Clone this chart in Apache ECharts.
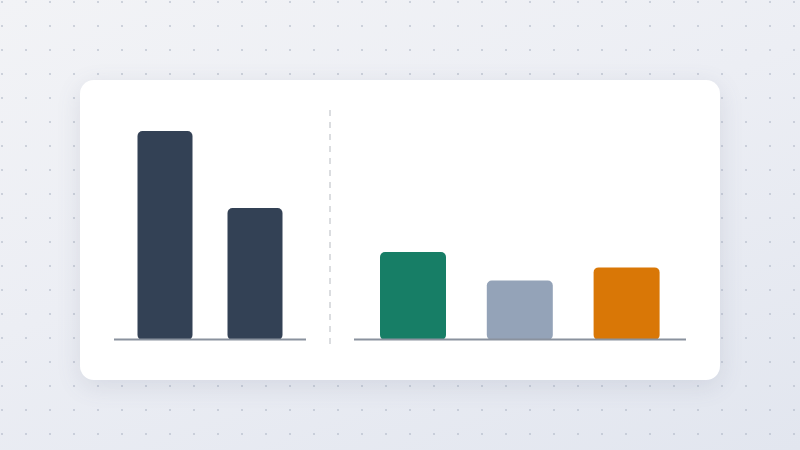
<!DOCTYPE html>
<html>
<head>
<meta charset="utf-8">
<script src="https://cdn.jsdelivr.net/npm/echarts@6/dist/echarts.min.js"></script>
<style>
  html, body { margin: 0; padding: 0; }
  body {
    width: 800px; height: 450px; overflow: hidden;
    background-color: #eaedf3;
    background-image:
      radial-gradient(circle, rgba(175,183,198,0.55) 0.9px, rgba(175,183,198,0) 1.4px),
      linear-gradient(160deg, #f2f3f6 0%, #eceef4 45%, #e2e6ef 100%);
    background-size: 24px 24px, 100% 100%;
    background-position: -10px -10px, 0 0;
  }
  #chart { width: 800px; height: 450px; }
</style>
</head>
<body>
<div id="chart"></div>
<script>
// Data
const leftCategories = ['A', 'B'];
const leftValues = [95, 60];
const leftColors = ['#334155', '#334155'];

const rightCategories = ['C', 'D', 'E'];
const rightValues = [40, 27, 33];
const rightColors = ['#177e66', '#94a3b8', '#d97706'];

const chart = echarts.init(document.getElementById('chart'), null, { renderer: 'canvas' });

const baseLineColor = '#8a929e';

const option = {
  backgroundColor: 'transparent',
  animation: false,
  graphic: [
    {
      type: 'rect', z: -10, zlevel: 0,
      shape: { x: 80, y: 80, width: 640, height: 300, r: 14 },
      style: { fill: '#ffffff', shadowBlur: 24, shadowColor: 'rgba(90,100,130,0.14)', shadowOffsetY: 6 }
    },
    {
      type: 'line', z: 5,
      shape: { x1: 114, y1: 339.5, x2: 306, y2: 339.5 },
      style: { stroke: baseLineColor, lineWidth: 2 }
    },
    {
      type: 'line', z: 5,
      shape: { x1: 354, y1: 339.5, x2: 686, y2: 339.5 },
      style: { stroke: baseLineColor, lineWidth: 2 }
    },
    {
      type: 'line', z: 5,
      shape: { x1: 330, y1: 110, x2: 330, y2: 344 },
      style: { stroke: '#cfd2d6', lineWidth: 1.5, lineDash: [6, 6] }
    }
  ],
  grid: [
    { left: 120, width: 180, top: 120, bottom: 110 },
    { left: 359.6, width: 320.4, top: 120, bottom: 110 }
  ],
  xAxis: [
    { type: 'category', gridIndex: 0, data: leftCategories,
      axisLine: { show: false }, axisTick: { show: false }, axisLabel: { show: false } },
    { type: 'category', gridIndex: 1, data: rightCategories,
      axisLine: { show: false }, axisTick: { show: false }, axisLabel: { show: false } }
  ],
  yAxis: [
    { type: 'value', gridIndex: 0, min: 0, max: 100,
      splitLine: { show: false }, axisLine: { show: false }, axisTick: { show: false }, axisLabel: { show: false } },
    { type: 'value', gridIndex: 1, min: 0, max: 100,
      splitLine: { show: false }, axisLine: { show: false }, axisTick: { show: false }, axisLabel: { show: false } }
  ],
  series: [
    {
      type: 'bar', xAxisIndex: 0, yAxisIndex: 0, barWidth: 55, z: 3,
      data: leftValues.map((v, i) => ({ value: v, itemStyle: { color: leftColors[i] } })),
      itemStyle: { borderRadius: 5 }
    },
    {
      type: 'bar', xAxisIndex: 1, yAxisIndex: 1, barWidth: 66, z: 3,
      data: rightValues.map((v, i) => ({ value: v, itemStyle: { color: rightColors[i] } })),
      itemStyle: { borderRadius: 5 }
    }
  ]
};

chart.setOption(option);
</script>
</body>
</html>
